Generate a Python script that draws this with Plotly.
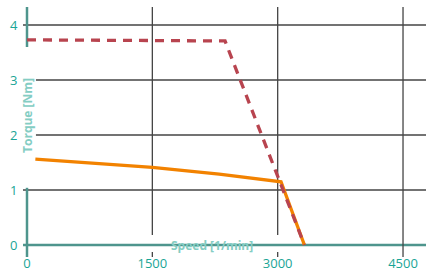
import plotly.graph_objects as go

# Data
speed_peak = [0, 2370, 3320]
torque_peak = [3.73, 3.71, 0.0]
speed_cont = [100, 1500, 2300, 3040, 3320]
torque_cont = [1.56, 1.41, 1.29, 1.15, 0.0]
x_ticks = [0, 1500, 3000, 4500]
y_ticks = [0, 1, 2, 3, 4]

TEAL_TXT = "#1aa596"
TEAL_AX = "#4e958d"
TITLE_C = "#84cdc3"
GRID = "#444444"
XMAX = 4775
YMIN, YMAX = -0.2182, 4.3273

fig = go.Figure()
fig.add_trace(go.Scatter(x=speed_cont, y=torque_cont, mode="lines",
                         line=dict(color="#f28200", width=3.3), cliponaxis=False))
fig.add_trace(go.Scatter(x=speed_peak, y=torque_peak, mode="lines",
                         line=dict(color="#b8444f", width=3.3, dash="9px,7px"),
                         cliponaxis=False))

shapes = []
# vertical grid lines
for xv in [1500, 3000]:
    shapes.append(dict(type="line", xref="x", yref="y", x0=xv, x1=xv, y0=0.18, y1=YMAX,
                       line=dict(color=GRID, width=1.3), layer="below"))
    shapes.append(dict(type="line", xref="x", yref="y", x0=xv, x1=xv, y0=-0.127, y1=YMIN,
                       line=dict(color=GRID, width=1.3), layer="below"))
shapes.append(dict(type="line", xref="x", yref="y", x0=4500, x1=4500, y0=YMIN, y1=YMAX,
                   line=dict(color=GRID, width=1.3), layer="below"))
# horizontal grid lines
for yv in [4, 1]:
    shapes.append(dict(type="line", xref="paper", yref="y", x0=-0.01, x1=1, y0=yv, y1=yv,
                       line=dict(color=GRID, width=1.3), layer="below"))
for yv in [3, 2]:
    shapes.append(dict(type="line", xref="x", yref="y", x0=107, x1=XMAX, y0=yv, y1=yv,
                       line=dict(color=GRID, width=1.3), layer="below"))
# x axis line (teal)
shapes.append(dict(type="line", xref="paper", yref="y", x0=-0.01, x1=1, y0=0, y1=0,
                   line=dict(color=TEAL_AX, width=2.5), layer="below"))
# y axis line segments (teal)
shapes.append(dict(type="line", xref="paper", yref="y", x0=0, x1=0, y0=3.6, y1=YMAX,
                   line=dict(color=TEAL_AX, width=2.5), layer="below"))
shapes.append(dict(type="line", xref="paper", yref="y", x0=0, x1=0, y0=YMIN, y1=1.04,
                   line=dict(color=TEAL_AX, width=2.5), layer="below"))

fig.update_layout(
    width=426, height=277,
    margin=dict(l=27, r=0, t=7, b=20, autoexpand=False),
    paper_bgcolor="white", plot_bgcolor="white",
    showlegend=False,
    shapes=shapes,
    font=dict(family="Open Sans", size=13, color=TEAL_TXT),
    xaxis=dict(range=[0, XMAX], tickvals=x_ticks, ticktext=[str(v) for v in x_ticks],
               showgrid=False, zeroline=False, showline=False, automargin=False,
               ticks="", ticklabelstandoff=-3,
               tickfont=dict(size=13, color=TEAL_TXT), fixedrange=True),
    yaxis=dict(range=[YMIN, YMAX], tickvals=y_ticks, ticktext=[str(v) for v in y_ticks],
               showgrid=False, zeroline=False, showline=False, automargin=False,
               ticks="outside", ticklen=6, tickcolor="rgba(0,0,0,0)",
               tickfont=dict(size=13, color=TEAL_TXT), fixedrange=True),
    annotations=[
        dict(text="<b>Speed [1/min]</b>", x=2210, y=0, xref="x", yref="y",
             showarrow=False, font=dict(size=12, color=TITLE_C), xanchor="center",
             yanchor="middle"),
        dict(text="<b>Torque [Nm]</b>", x=0.003, y=2.35, xref="paper", yref="y",
             showarrow=False, font=dict(size=12, color=TITLE_C), textangle=-90,
             xanchor="center", yanchor="middle"),
    ],
)

fig.write_html("out.html", config={"displayModeBar": False},
               post_script="document.body.style.margin='0';document.body.style.overflow='hidden';")
